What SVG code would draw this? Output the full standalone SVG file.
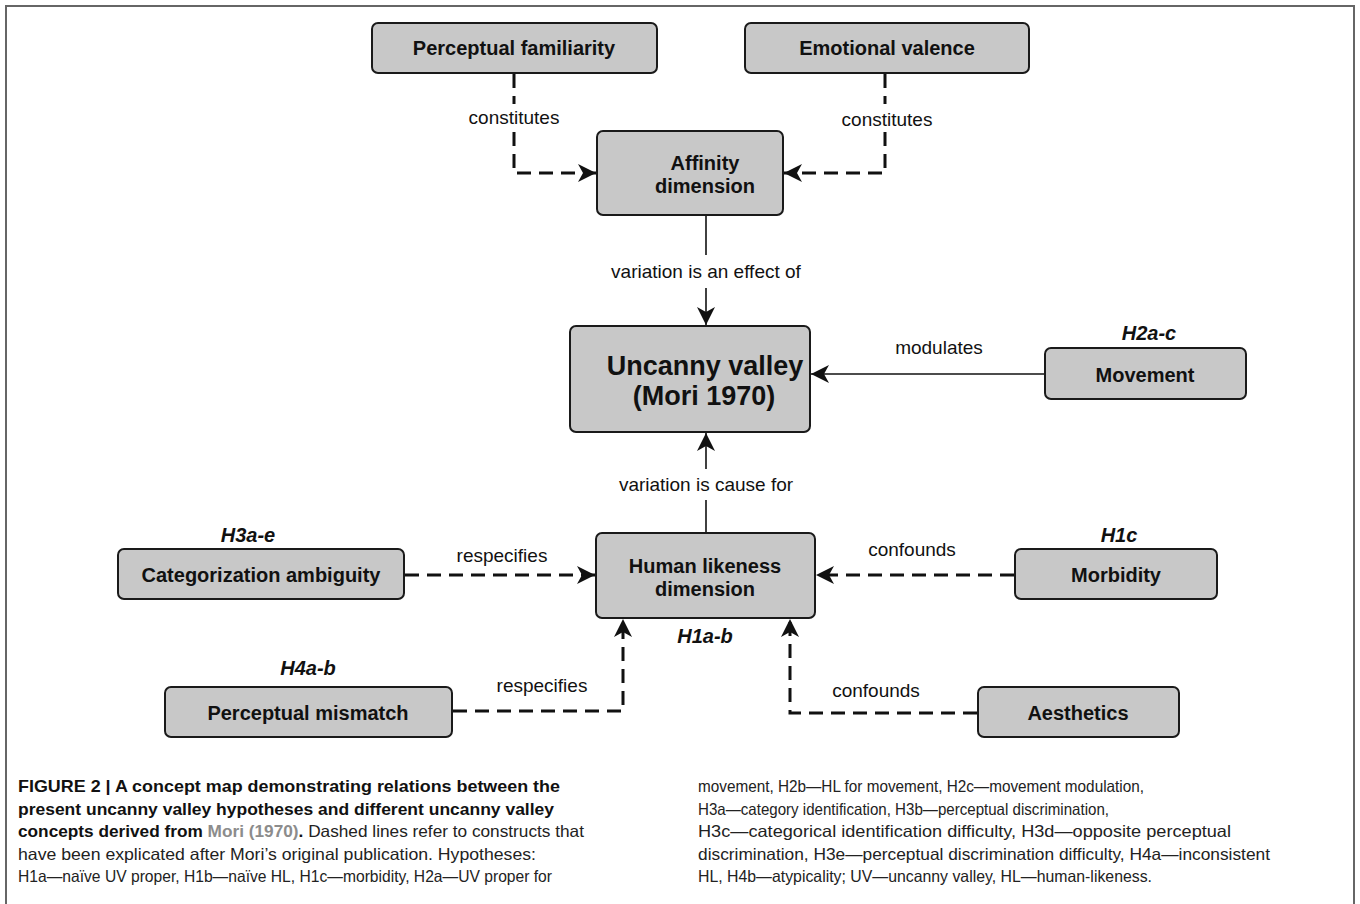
<svg xmlns="http://www.w3.org/2000/svg" width="1360" height="904" viewBox="0 0 1360 904">
<style>
.box{fill:#c8c8c8;stroke:#1a1a1a;stroke-width:2}
.nt{font-family:"Liberation Sans",Arial,sans-serif;font-weight:bold;font-size:20px;fill:#111;text-anchor:middle}
.big{font-size:27px}
.hyp{font-family:"Liberation Sans",Arial,sans-serif;font-weight:bold;font-style:italic;font-size:20px;fill:#111;text-anchor:middle}
.el{font-family:"Liberation Sans",Arial,sans-serif;font-size:19px;fill:#111;text-anchor:middle}
.solid{fill:none;stroke:#111;stroke-width:1.6}
.dash{fill:none;stroke:#111;stroke-width:3;stroke-dasharray:14 8}
.cap{font-family:"Liberation Sans",Arial,sans-serif;font-size:16.5px;fill:#222}
.capb{font-weight:bold;fill:#111}
.mori{font-weight:bold;fill:#8c8c8c}
</style>
<defs>
<marker id="ah" markerUnits="userSpaceOnUse" markerWidth="20" markerHeight="18" refX="18" refY="9" orient="auto">
<path d="M0,0 L18,9 L0,18 L5,9 Z" fill="#111"/>
</marker>
</defs>
<rect width="1360" height="904" fill="#fff"/>
<path d="M6,904 V6 H1354 V904" fill="none" stroke="#666" stroke-width="2"/>

<g id="connectors">
<path class="dash" d="M514,74 V104"/>
<path class="dash" d="M514,132 V173 H596" marker-end="url(#ah)"/>
<path class="dash" d="M885,74 V104"/>
<path class="dash" d="M885,132 V173 H784" marker-end="url(#ah)"/>
<path class="solid" d="M706,216 V255"/>
<path class="solid" d="M706,288 V325" marker-end="url(#ah)"/>
<path class="solid" d="M706,532 V500"/>
<path class="solid" d="M706,469 V433" marker-end="url(#ah)"/>
<path class="solid" d="M1045,374 H811" marker-end="url(#ah)"/>
<path class="dash" d="M405,575 H595" marker-end="url(#ah)"/>
<path class="dash" d="M1014,575 H816" marker-end="url(#ah)"/>
<path class="dash" d="M453,711 H623 V619" marker-end="url(#ah)"/>
<path class="dash" d="M977,713 H790 V619" marker-end="url(#ah)"/>
<text class="el" x="514" y="124">constitutes</text>
<text class="el" x="887" y="126">constitutes</text>
<text class="el" x="706" y="278">variation is an effect of</text>
<text class="el" x="706" y="491">variation is cause for</text>
<text class="el" x="939" y="354">modulates</text>
<text class="el" x="502" y="562">respecifies</text>
<text class="el" x="912" y="556">confounds</text>
<text class="el" x="542" y="692">respecifies</text>
<text class="el" x="876" y="697">confounds</text>
</g>

<g id="perceptual-familiarity">
<rect class="box" x="372" y="23" width="285" height="50" rx="6"/>
<text class="nt" x="514" y="55">Perceptual familiarity</text>
</g>
<g id="emotional-valence">
<rect class="box" x="745" y="23" width="284" height="50" rx="6"/>
<text class="nt" x="887" y="55">Emotional valence</text>
</g>
<g id="affinity-dimension">
<rect class="box" x="597" y="131" width="186" height="84" rx="6"/>
<text class="nt" x="705" y="170">Affinity</text>
<text class="nt" x="705" y="193">dimension</text>
</g>
<g id="uncanny-valley">
<rect class="box" x="570" y="326" width="240" height="106" rx="6"/>
<text class="nt big" x="705" y="375">Uncanny valley</text>
<text class="nt big" x="704" y="405">(Mori 1970)</text>
</g>
<g id="movement">
<text class="hyp" x="1149" y="340">H2a-c</text>
<rect class="box" x="1045" y="348" width="201" height="51" rx="6"/>
<text class="nt" x="1145" y="382">Movement</text>
</g>
<g id="human-likeness-dimension">
<rect class="box" x="596" y="533" width="219" height="85" rx="6"/>
<text class="nt" x="705" y="573">Human likeness</text>
<text class="nt" x="705" y="596">dimension</text>
<text class="hyp" x="705" y="643">H1a-b</text>
</g>
<g id="categorization-ambiguity">
<text class="hyp" x="248" y="542">H3a-e</text>
<rect class="box" x="118" y="549" width="286" height="50" rx="6"/>
<text class="nt" x="261" y="582">Categorization ambiguity</text>
</g>
<g id="morbidity">
<text class="hyp" x="1119" y="542">H1c</text>
<rect class="box" x="1015" y="549" width="202" height="50" rx="6"/>
<text class="nt" x="1116" y="582">Morbidity</text>
</g>
<g id="perceptual-mismatch">
<text class="hyp" x="308" y="675">H4a-b</text>
<rect class="box" x="165" y="687" width="287" height="50" rx="6"/>
<text class="nt" x="308" y="720">Perceptual mismatch</text>
</g>
<g id="aesthetics">
<rect class="box" x="978" y="687" width="201" height="50" rx="6"/>
<text class="nt" x="1078" y="720">Aesthetics</text>
</g>

<g id="caption" class="cap">
<text x="18" y="792" textLength="542" lengthAdjust="spacingAndGlyphs" class="capb">FIGURE 2 | A concept map demonstrating relations between the</text>
<text x="18" y="814.5" textLength="536" lengthAdjust="spacingAndGlyphs" class="capb">present uncanny valley hypotheses and different uncanny valley</text>
<text x="18" y="837" textLength="566" lengthAdjust="spacingAndGlyphs"><tspan class="capb">concepts derived from </tspan><tspan class="mori">Mori (1970)</tspan><tspan class="capb">.</tspan> Dashed lines refer to constructs that</text>
<text x="18" y="859.5" textLength="518" lengthAdjust="spacingAndGlyphs">have been explicated after Mori’s original publication. Hypotheses:</text>
<text x="18" y="882" textLength="534" lengthAdjust="spacingAndGlyphs">H1a—naïve UV proper, H1b—naïve HL, H1c—morbidity, H2a—UV proper for</text>
<text x="698" y="792" textLength="446" lengthAdjust="spacingAndGlyphs">movement, H2b—HL for movement, H2c—movement modulation,</text>
<text x="698" y="814.5" textLength="411" lengthAdjust="spacingAndGlyphs">H3a—category identification, H3b—perceptual discrimination,</text>
<text x="698" y="837" textLength="533" lengthAdjust="spacingAndGlyphs">H3c—categorical identification difficulty, H3d—opposite perceptual</text>
<text x="698" y="859.5" textLength="572" lengthAdjust="spacingAndGlyphs">discrimination, H3e—perceptual discrimination difficulty, H4a—inconsistent</text>
<text x="698" y="882" textLength="454" lengthAdjust="spacingAndGlyphs">HL, H4b—atypicality; UV—uncanny valley, HL—human-likeness.</text>
</g>
</svg>
